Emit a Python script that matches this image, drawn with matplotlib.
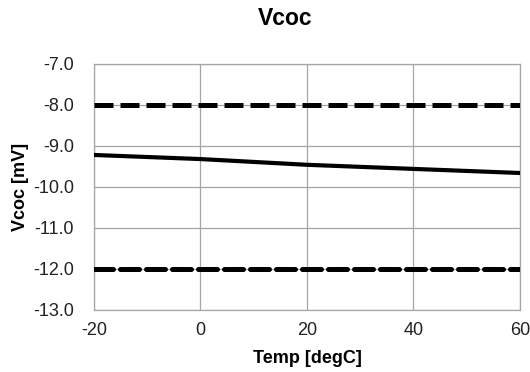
import matplotlib
matplotlib.use("Agg")
import matplotlib.pyplot as plt
from matplotlib.ticker import FormatStrFormatter

plt.rcParams["font.family"] = ["Liberation Sans", "DejaVu Sans"]
plt.rcParams["axes.unicode_minus"] = False

# Vcoc vs temperature, with upper/lower limits
temp = [-20, 0, 20, 40, 60]
vcoc = [-9.22, -9.32, -9.46, -9.56, -9.66]
upper_limit = [-8.0, -8.0, -8.0, -8.0, -8.0]
lower_limit = [-12.0, -12.0, -12.0, -12.0, -12.0]

fig = plt.figure(figsize=(5.3, 3.72), dpi=100)
ax = fig.add_axes([0.1774, 0.167, 0.8036, 0.661])

grid_col = "#a6a6a6"
ax.grid(True, color=grid_col, linewidth=0.9, zorder=0)
for sp in ax.spines.values():
    sp.set_color(grid_col)
    sp.set_linewidth(0.9)

ax.plot(temp, upper_limit, color="black", linewidth=3.6,
        dashes=(3.8, 1.4), dash_capstyle="butt", zorder=3)
ax.plot(temp, lower_limit, color="black", linewidth=3.6,
        dashes=(3.8, 1.4), dash_capstyle="round", zorder=3)
ax.plot(temp, vcoc, color="black", linewidth=3.0, zorder=4)

ax.set_xlim(-20, 60)
ax.set_ylim(-13, -7)
ax.set_xticks([-20, 0, 20, 40, 60])
ax.set_yticks([-13, -12, -11, -10, -9, -8, -7])
ax.yaxis.set_major_formatter(FormatStrFormatter("%.1f"))
ax.tick_params(length=0, labelsize=13, colors="#222222")
ax.tick_params(axis="x", pad=8.5)
ax.tick_params(axis="y", pad=14.5)

ax.set_xlabel("Temp [degC]", fontsize=13, fontweight="bold", labelpad=8)
ax.set_ylabel("Vcoc [mV]", fontsize=13, fontweight="bold", labelpad=3)
fig.text(285 / 530, 1 - 25 / 372, "Vcoc", fontsize=16.5, fontweight="bold",
         ha="center", va="baseline")

fig.savefig("out.png", dpi=100)
